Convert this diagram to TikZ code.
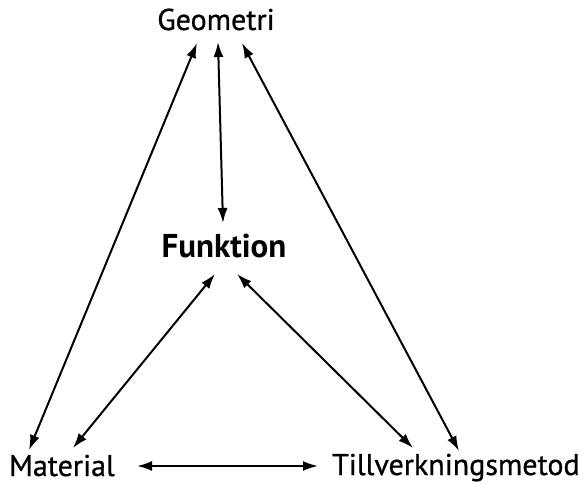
\documentclass[tikz,border=0pt]{standalone}
\usepackage{fontspec}
\setmainfont{PT Sans}
\newfontfamily\lblfont{PT Sans}[BoldFont=PT Sans, BoldFeatures={FakeBold=0.8}]
\usetikzlibrary{arrows.meta}
\begin{document}
\begin{tikzpicture}[x=1pt,y=-1pt,
  lbl/.style={inner sep=0pt, font=\fontsize{30}{33}\selectfont\lblfont\bfseries},
  conn/.style={{Latex[length=15pt,width=10pt]}-{Latex[length=15pt,width=10pt]}, line width=2pt}]
\useasboundingbox (0,0) rectangle (587,484);
\node[lbl, anchor=base] (geo) at (216,30) {Geometri};
\node[lbl, anchor=base, font=\fontsize{33}{36}\selectfont\normalfont\bfseries] (fun) at (224,258) {Funktion};
\node[lbl, anchor=base west] (mat) at (9,476) {Material};
\node[lbl, anchor=base west] (till) at (332,475) {Tillverkningsmetod};
\draw[conn] ([shift={(-19,13)}]geo.base) -- ([shift={(20,-26)}]mat.base west);
\draw[conn] ([shift={(2,12)}]geo.base) -- ([shift={(-1,-35)}]fun.base);
\draw[conn] ([shift={(26,13)}]geo.base) -- ([shift={(127,-24)}]till.base west);
\draw[conn] ([shift={(-9,16)}]fun.base) -- ([shift={(64,-28)}]mat.base west);
\draw[conn] ([shift={(13,16)}]fun.base) -- ([shift={(81,-27)}]till.base west);
\draw[conn] ([shift={(128,-10)}]mat.base west) -- ([shift={(-14,-9)}]till.base west);
\end{tikzpicture}
\end{document}
